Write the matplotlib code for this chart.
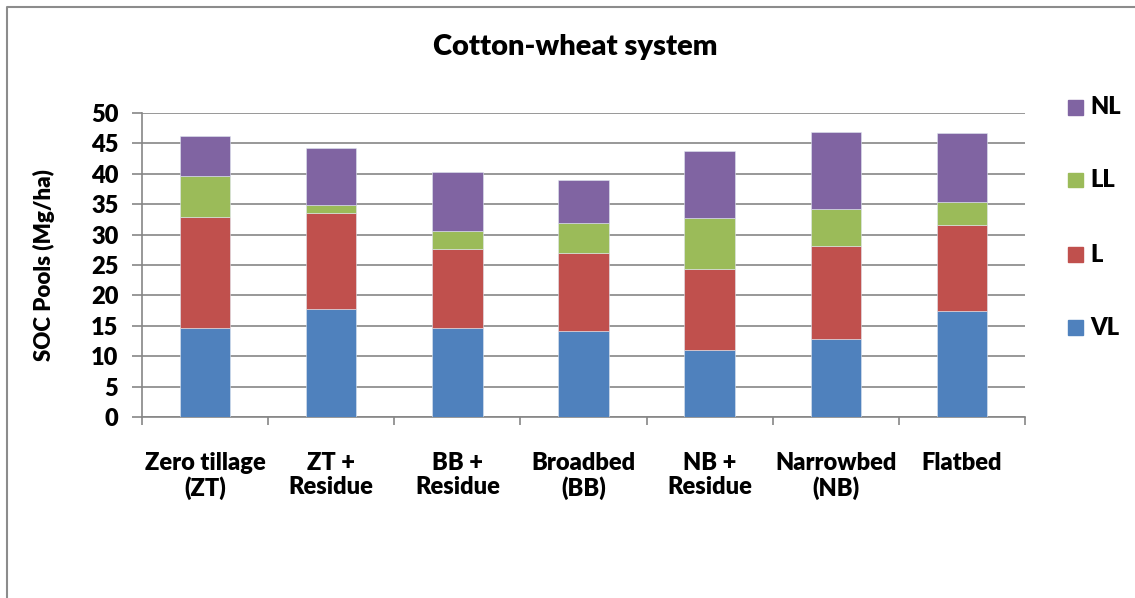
import numpy as np
import matplotlib
matplotlib.use("Agg")
import matplotlib.pyplot as plt
from matplotlib.lines import Line2D

plt.rcParams['font.family'] = ['Lato', 'DejaVu Sans']

# Data (Mg/ha)
categories = ["Zero tillage\n(ZT)", "ZT +\nResidue", "BB +\nResidue", "Broadbed\n(BB)",
              "NB +\nResidue", "Narrowbed\n(NB)", "Flatbed"]
vl = [14.7, 17.7, 14.7, 14.1, 11.0, 12.8, 17.5]
l = [18.1, 15.8, 12.9, 12.9, 13.4, 15.4, 14.0]
ll = [6.8, 1.3, 3.0, 4.9, 8.3, 6.0, 3.9]
nl = [6.6, 9.4, 9.7, 7.1, 11.0, 12.6, 11.3]

series = [("VL", vl, "#4F81BD"), ("L", l, "#C0504D"), ("LL", ll, "#9BBB59"), ("NL", nl, "#8064A2")]
GRID = "#868686"
W = 'heavy'

fig = plt.figure(figsize=(11.35, 5.98), dpi=100)
ax = fig.add_axes([0.1251, 0.3022, 0.778, 0.5093])

x = np.arange(len(categories))
bottom = np.zeros(len(categories))
handles = []
for name, vals, col in series:
    ax.bar(x, vals, width=0.4, bottom=bottom, color=col, edgecolor="#dfe6ef", linewidth=0.4, zorder=3)
    bottom += np.array(vals)
    handles.append((name, col))

ax.set_xlim(-0.5, len(categories) - 0.5)
ax.set_ylim(0, 50)
ax.set_yticks(np.arange(0, 51, 5))
ax.yaxis.grid(True, color=GRID, linewidth=1.2, zorder=0)
ax.set_axisbelow(True)

ax.set_xticks(np.arange(-0.5, len(categories), 1.0))
ax.set_xticklabels([])
ax.set_xticks(x, minor=True)
ax.set_xticklabels(categories, minor=True, fontsize=17, fontweight=W, linespacing=1.12)
ax.tick_params(axis='x', which='major', length=6, width=1.2, color=GRID, direction='out')
ax.tick_params(axis='x', which='minor', length=0, pad=25)
ax.tick_params(axis='y', length=7, width=1.2, color=GRID, labelsize=17, pad=10)
for lab in ax.get_yticklabels():
    lab.set_fontweight(W)

for s in ['top', 'right']:
    ax.spines[s].set_visible(False)
for s in ['left', 'bottom']:
    ax.spines[s].set_color(GRID)
    ax.spines[s].set_linewidth(1.2)

ax.set_ylabel("SOC Pools (Mg/ha)", fontsize=16, fontweight=W, labelpad=26)
fig.text(0.507, 0.921, "Cotton-wheat system", ha='center', va='center', fontsize=21, fontweight=W)

# legend drawn top-down: NL, LL, L, VL
leg_y = [0.821, 0.699, 0.574, 0.452]
for (name, col), yy in zip(handles[::-1], leg_y):
    fig.patches.append(plt.Rectangle((0.941, yy - 0.0125), 0.0132, 0.025, transform=fig.transFigure,
                                     color=col, figure=fig))
    fig.text(0.961, yy, name, ha='left', va='center', fontsize=17, fontweight=W)

# outer chart border (left and top visible)
fig.add_artist(Line2D([0.0062, 0.0062, 1.0], [0.0, 0.9883, 0.9883], transform=fig.transFigure,
                      color="#8c8c8c", linewidth=1.5))

fig.savefig("out.png", dpi=100)
